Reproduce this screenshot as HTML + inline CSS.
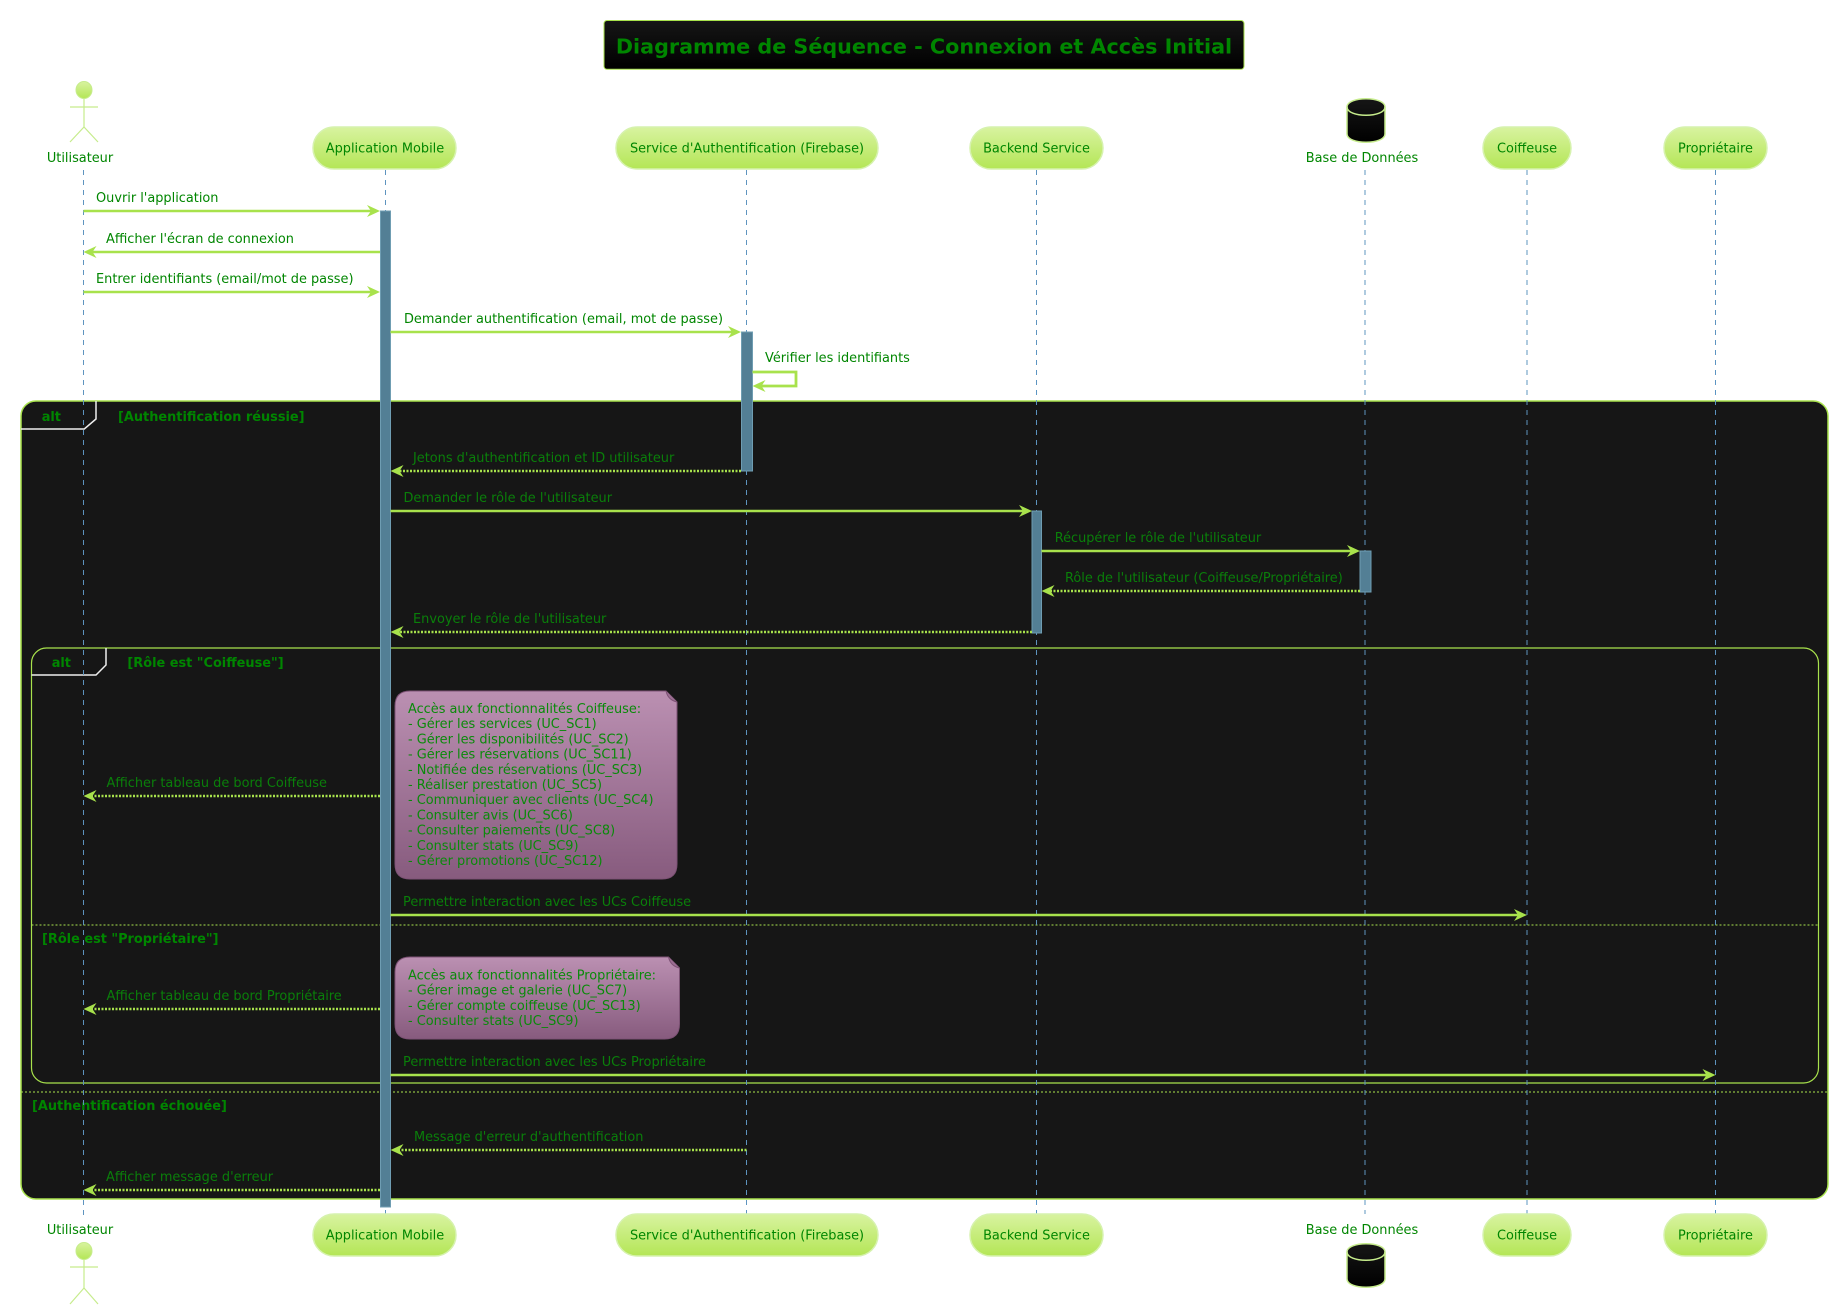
<!DOCTYPE html>
<html><head><meta charset="utf-8"><style>
html,body{margin:0;padding:0;background:#fff;}
svg{display:block;}
text{font-family:"DejaVu Sans","Liberation Sans",sans-serif;}
</style></head><body>
<svg width="1840" height="1314" viewBox="0 0 1840 1314" xmlns="http://www.w3.org/2000/svg">
<defs>
<linearGradient id="pg" x1="0" y1="0" x2="0" y2="1"><stop offset="0" stop-color="#d8f3a0"/><stop offset="1" stop-color="#b4e656"/></linearGradient>
<linearGradient id="tg" x1="0" y1="0" x2="0" y2="1"><stop offset="0" stop-color="#161616"/><stop offset="1" stop-color="#000"/></linearGradient>
<linearGradient id="ng" x1="0" y1="0" x2="0" y2="1"><stop offset="0" stop-color="#bb90b2"/><stop offset="1" stop-color="#875b7e"/></linearGradient>
</defs>

<!-- Title -->
<rect x="604" y="20.5" width="640" height="48.8" rx="3" fill="url(#tg)" stroke="#a8e24c" stroke-width="1"/>
<text x="924" y="53.3" text-anchor="middle" font-size="20.7" font-weight="bold" fill="#008600">Diagramme de Séquence - Connexion et Accès Initial</text>

<!-- Alt outer frame -->
<rect x="21" y="401" width="1807" height="798" rx="15" fill="#161616" stroke="#a8e24c" stroke-width="1.5"/>
<path d="M21,429 L84.3,429 L96,419 L96,401" fill="none" stroke="#eeeeee" stroke-width="1.5"/>
<text x="41.7" y="421" font-size="12.9" font-weight="bold" fill="#008600">alt</text>
<text x="118" y="421" font-size="12.9" font-weight="bold" fill="#008600">[Authentification réussie]</text>
<line x1="21" y1="1092" x2="1828" y2="1092" stroke="#a8e24c" stroke-width="1" stroke-dasharray="2,2"/>
<text x="32" y="1110" font-size="12.9" font-weight="bold" fill="#008600">[Authentification échouée]</text>

<!-- Alt inner frame -->
<rect x="31.5" y="648" width="1787" height="435" rx="15" fill="#161616" stroke="#a8e24c" stroke-width="1.2"/>
<path d="M31.5,675 L96,675 L106,665 L106,648" fill="none" stroke="#eeeeee" stroke-width="1.5"/>
<text x="51.7" y="667" font-size="12.9" font-weight="bold" fill="#008600">alt</text>
<text x="127.4" y="667" font-size="12.9" font-weight="bold" fill="#008600">[Rôle est "Coiffeuse"]</text>
<line x1="31.5" y1="925" x2="1818.5" y2="925" stroke="#a8e24c" stroke-width="1" stroke-dasharray="2,2"/>
<text x="42" y="943" font-size="12.9" font-weight="bold" fill="#008600">[Rôle est "Propriétaire"]</text>

<!-- Lifelines -->
<g stroke="#5e94bf" stroke-width="1" stroke-dasharray="5,5" fill="none">
<line x1="83.5" y1="170" x2="83.5" y2="1216"/>
<line x1="385.5" y1="170" x2="385.5" y2="1214"/>
<line x1="746.5" y1="170" x2="746.5" y2="1214"/>
<line x1="1036.5" y1="170" x2="1036.5" y2="1214"/>
<line x1="1365" y1="170" x2="1365" y2="1214"/>
<line x1="1527" y1="170" x2="1527" y2="1214"/>
<line x1="1715.5" y1="170" x2="1715.5" y2="1214"/>
</g>

<!-- Top participants -->
<g>
<ellipse cx="84" cy="90" rx="8" ry="8.5" fill="url(#pg)" stroke="#c6ec8c" stroke-width="1"/>
<line x1="84" y1="98.5" x2="84" y2="127" stroke="#c6ec8c" stroke-width="1.2"/>
<line x1="70" y1="107" x2="98" y2="107" stroke="#c6ec8c" stroke-width="1.2"/>
<path d="M70,142 L84,127 L98,142" fill="none" stroke="#c6ec8c" stroke-width="1.2"/>
<text x="80" y="162" text-anchor="middle" font-size="12.9" fill="#008600">Utilisateur</text>

<rect x="313" y="127" width="143" height="42" rx="21" fill="url(#pg)" stroke="#d6f2ae" stroke-width="1.5"/>
<text x="385" y="152.5" text-anchor="middle" font-size="12.9" fill="#008600">Application Mobile</text>

<rect x="616" y="127" width="262" height="42" rx="21" fill="url(#pg)" stroke="#d6f2ae" stroke-width="1.5"/>
<text x="747" y="152.5" text-anchor="middle" font-size="12.9" fill="#008600">Service d'Authentification (Firebase)</text>

<rect x="970" y="127" width="133" height="42" rx="21" fill="url(#pg)" stroke="#d6f2ae" stroke-width="1.5"/>
<text x="1036.5" y="152.5" text-anchor="middle" font-size="12.9" fill="#008600">Backend Service</text>

<path d="M1347,107 C1347,96 1385,96 1385,107 L1385,134 C1385,145 1347,145 1347,134 Z" fill="url(#tg)" stroke="#c6ec8c" stroke-width="1.5"/>
<path d="M1347,107 C1347,118 1385,118 1385,107" fill="none" stroke="#c6ec8c" stroke-width="1.5"/>
<text x="1362" y="162" text-anchor="middle" font-size="12.9" fill="#008600">Base de Données</text>

<rect x="1483" y="127" width="88" height="42" rx="21" fill="url(#pg)" stroke="#d6f2ae" stroke-width="1.5"/>
<text x="1527" y="152.5" text-anchor="middle" font-size="12.9" fill="#008600">Coiffeuse</text>

<rect x="1664" y="127" width="103" height="42" rx="21" fill="url(#pg)" stroke="#d6f2ae" stroke-width="1.5"/>
<text x="1715.5" y="152.5" text-anchor="middle" font-size="12.9" fill="#008600">Propriétaire</text>
</g>

<!-- Bottom participants -->
<g>
<text x="80" y="1234" text-anchor="middle" font-size="12.9" fill="#008600">Utilisateur</text>
<ellipse cx="84" cy="1251" rx="8" ry="8.5" fill="url(#pg)" stroke="#c6ec8c" stroke-width="1"/>
<line x1="84" y1="1259.5" x2="84" y2="1288" stroke="#c6ec8c" stroke-width="1.2"/>
<line x1="70" y1="1267" x2="98" y2="1267" stroke="#c6ec8c" stroke-width="1.2"/>
<path d="M70,1304 L84,1288 L98,1304" fill="none" stroke="#c6ec8c" stroke-width="1.2"/>

<rect x="313" y="1214" width="143" height="42" rx="21" fill="url(#pg)" stroke="#d6f2ae" stroke-width="1.5"/>
<text x="385" y="1239.5" text-anchor="middle" font-size="12.9" fill="#008600">Application Mobile</text>

<rect x="616" y="1214" width="262" height="42" rx="21" fill="url(#pg)" stroke="#d6f2ae" stroke-width="1.5"/>
<text x="747" y="1239.5" text-anchor="middle" font-size="12.9" fill="#008600">Service d'Authentification (Firebase)</text>

<rect x="970" y="1214" width="133" height="42" rx="21" fill="url(#pg)" stroke="#d6f2ae" stroke-width="1.5"/>
<text x="1036.5" y="1239.5" text-anchor="middle" font-size="12.9" fill="#008600">Backend Service</text>

<text x="1362" y="1234" text-anchor="middle" font-size="12.9" fill="#008600">Base de Données</text>
<path d="M1347,1252 C1347,1241 1385,1241 1385,1252 L1385,1279 C1385,1290 1347,1290 1347,1279 Z" fill="url(#tg)" stroke="#c6ec8c" stroke-width="1.5"/>
<path d="M1347,1252 C1347,1263 1385,1263 1385,1252" fill="none" stroke="#c6ec8c" stroke-width="1.5"/>

<rect x="1483" y="1214" width="88" height="42" rx="21" fill="url(#pg)" stroke="#d6f2ae" stroke-width="1.5"/>
<text x="1527" y="1239.5" text-anchor="middle" font-size="12.9" fill="#008600">Coiffeuse</text>

<rect x="1664" y="1214" width="103" height="42" rx="21" fill="url(#pg)" stroke="#d6f2ae" stroke-width="1.5"/>
<text x="1715.5" y="1239.5" text-anchor="middle" font-size="12.9" fill="#008600">Propriétaire</text>
</g>

<!-- Activations -->
<g fill="#537f95" stroke="#6f9db2" stroke-width="1">
<rect x="380.5" y="211" width="10" height="996"/>
<rect x="741.5" y="332" width="11" height="139"/>
<rect x="1032" y="511" width="9.5" height="122"/>
<rect x="1360" y="551" width="11" height="41"/>
</g>

<!-- Notes -->
<path d="M410,691 L666,691 L677,702 L677,864 Q677,879 662,879 L410,879 Q395,879 395,864 L395,706 Q395,691 410,691 Z" fill="url(#ng)" stroke="#7d5275" stroke-width="1"/>
<path d="M666,691 Q668,700 677,702" fill="#9c6f93" stroke="#7d5275" stroke-width="1"/>
<g font-size="12.9" fill="#0a8a0a">
<text x="408" y="713">Accès aux fonctionnalités Coiffeuse:</text>
<text x="408" y="728.2">- Gérer les services (UC_SC1)</text>
<text x="408" y="743.4">- Gérer les disponibilités (UC_SC2)</text>
<text x="408" y="758.6">- Gérer les réservations (UC_SC11)</text>
<text x="408" y="773.8">- Notifiée des réservations (UC_SC3)</text>
<text x="408" y="789">- Réaliser prestation (UC_SC5)</text>
<text x="408" y="804.2">- Communiquer avec clients (UC_SC4)</text>
<text x="408" y="819.4">- Consulter avis (UC_SC6)</text>
<text x="408" y="834.6">- Consulter paiements (UC_SC8)</text>
<text x="408" y="849.8">- Consulter stats (UC_SC9)</text>
<text x="408" y="865">- Gérer promotions (UC_SC12)</text>
</g>

<path d="M410,957 L668.5,957 L679.5,968 L679.5,1024 Q679.5,1039 664.5,1039 L410,1039 Q395,1039 395,1024 L395,972 Q395,957 410,957 Z" fill="url(#ng)" stroke="#7d5275" stroke-width="1"/>
<path d="M668.5,957 Q670.5,966 679.5,968" fill="#9c6f93" stroke="#7d5275" stroke-width="1"/>
<g font-size="12.9" fill="#0a8a0a">
<text x="408" y="979.5">Accès aux fonctionnalités Propriétaire:</text>
<text x="408" y="994.7">- Gérer image et galerie (UC_SC7)</text>
<text x="408" y="1009.9">- Gérer compte coiffeuse (UC_SC13)</text>
<text x="408" y="1025.1">- Consulter stats (UC_SC9)</text>
</g>

<!-- Messages -->
<g stroke="#a8e24c" stroke-width="2.6" fill="none">
<line x1="83.5" y1="211" x2="376" y2="211"/>
<line x1="380" y1="252" x2="88" y2="252"/>
<line x1="83.5" y1="292" x2="376" y2="292"/>
<line x1="390.5" y1="332" x2="737" y2="332"/>
<path d="M752.5,372 L796,372 L796,386 L757,386" stroke-width="2.8"/>
<line x1="741" y1="471" x2="395" y2="471" stroke-dasharray="2,1.5"/>
<line x1="390.5" y1="511" x2="1028" y2="511"/>
<line x1="1041.5" y1="551" x2="1356" y2="551"/>
<line x1="1360" y1="591" x2="1046" y2="591" stroke-dasharray="2,1.5"/>
<line x1="1032" y1="632" x2="395" y2="632" stroke-dasharray="2,1.5"/>
<line x1="380" y1="796" x2="88" y2="796" stroke-dasharray="2,1.5"/>
<line x1="390.5" y1="915" x2="1523" y2="915"/>
<line x1="380" y1="1009" x2="88" y2="1009" stroke-dasharray="2,1.5"/>
<line x1="390.5" y1="1075" x2="1711" y2="1075"/>
<line x1="746.5" y1="1150" x2="395" y2="1150" stroke-dasharray="2,1.5"/>
<line x1="380" y1="1190" x2="88" y2="1190" stroke-dasharray="2,1.5"/>
</g>
<g fill="#a8e24c">
<polygon points="380,211 367,205 371,211 367,217"/>
<polygon points="380,292 367,286 371,292 367,298"/>
<polygon points="741,332 728,326 732,332 728,338"/>
<polygon points="1032,511 1019,505 1023,511 1019,517"/>
<polygon points="1360,551 1347,545 1351,551 1347,557"/>
<polygon points="1527,915 1514,909 1518,915 1514,921"/>
<polygon points="1715.5,1075 1702.5,1069 1706.5,1075 1702.5,1081"/>
<polygon points="83.5,252 96.5,246 92.5,252 96.5,258"/>
<polygon points="752.5,386 765.5,380 761.5,386 765.5,392"/>
<polygon points="390.5,471 403.5,465 399.5,471 403.5,477"/>
<polygon points="1041.5,591 1054.5,585 1050.5,591 1054.5,597"/>
<polygon points="390.5,632 403.5,626 399.5,632 403.5,638"/>
<polygon points="83.5,796 96.5,790 92.5,796 96.5,802"/>
<polygon points="83.5,1009 96.5,1003 92.5,1009 96.5,1015"/>
<polygon points="390.5,1150 403.5,1144 399.5,1150 403.5,1156"/>
<polygon points="83.5,1190 96.5,1184 92.5,1190 96.5,1196"/>
</g>

<g font-size="12.9" fill="#008600">
<text x="96" y="202">Ouvrir l'application</text>
<text x="106" y="243">Afficher l'écran de connexion</text>
<text x="96" y="283">Entrer identifiants (email/mot de passe)</text>
<text x="404" y="323">Demander authentification (email, mot de passe)</text>
<text x="765" y="362">Vérifier les identifiants</text>
</g>
<g font-size="12.9" fill="#0a7f0a">
<text x="413" y="462">Jetons d'authentification et ID utilisateur</text>
<text x="403.5" y="502">Demander le rôle de l'utilisateur</text>
<text x="1054.7" y="542">Récupérer le rôle de l'utilisateur</text>
<text x="1065" y="582">Rôle de l'utilisateur (Coiffeuse/Propriétaire)</text>
<text x="413" y="623">Envoyer le rôle de l'utilisateur</text>
<text x="106.5" y="787">Afficher tableau de bord Coiffeuse</text>
<text x="403" y="906">Permettre interaction avec les UCs Coiffeuse</text>
<text x="106.5" y="1000">Afficher tableau de bord Propriétaire</text>
<text x="403" y="1066">Permettre interaction avec les UCs Propriétaire</text>
<text x="414" y="1141">Message d'erreur d'authentification</text>
<text x="106" y="1181">Afficher message d'erreur</text>
</g>
</svg>
</body></html>
